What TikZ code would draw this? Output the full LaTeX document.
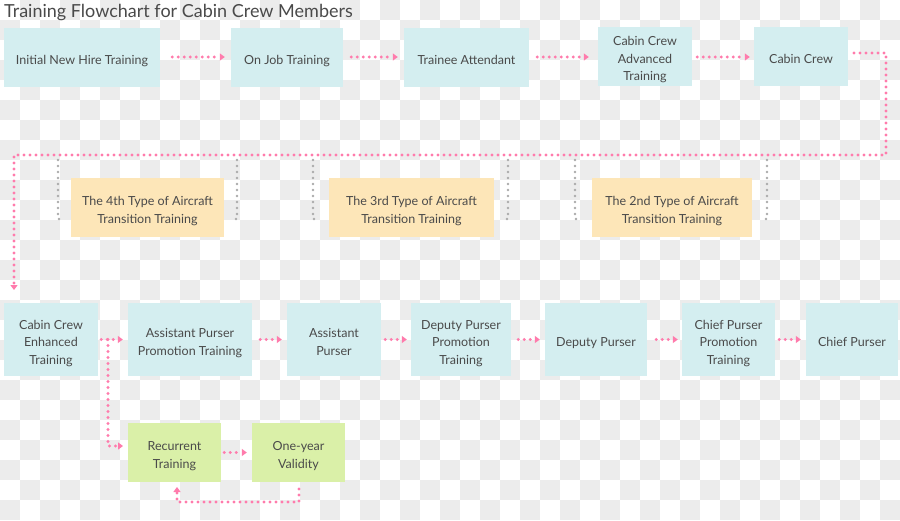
\documentclass[tikz,border=0pt]{standalone}
\usepackage{fontspec}
\setmainfont{Lato}
\usetikzlibrary{arrows.meta}
\definecolor{cyanbox}{HTML}{D4EEF0}
\definecolor{orangebox}{HTML}{FDE6B8}
\definecolor{greenbox}{HTML}{DAF0A8}
\definecolor{pinkline}{HTML}{FF7BAC}
\definecolor{grayline}{HTML}{AAAAAA}
\definecolor{txt}{HTML}{4A4A4A}
\definecolor{checker}{HTML}{ECECEC}
\newcommand\topstr{\rule[-3pt]{0pt}{20pt}}
\newcommand\botstr{\rule[-3pt]{0pt}{3pt}}
\tikzset{
  box/.style={rectangle, inner sep=0pt, align=center, text=txt,
    font=\fontsize{12.5}{17.5}\selectfont},
  cbox/.style={box, fill=cyanbox},
  obox/.style={box, fill=orangebox},
  gbox/.style={box, fill=greenbox},
  pinkdots/.style={draw=pinkline, line width=3.3pt, line cap=round,
    dash pattern=on 0pt off 6pt},
  pinkarrow/.style={pinkdots, -{Triangle[length=5pt,width=7pt]}},
  graydots/.style={draw=grayline, line width=2.8pt, line cap=round,
    dash pattern=on 0pt off 6pt},
}
\begin{document}
\begin{tikzpicture}[x=1pt,y=-1pt]
\useasboundingbox (0,0) rectangle (900,520);
\fill[white] (0,0) rectangle (900,520);
\foreach \j in {0,...,25} {
  \foreach \i in {0,...,44} {
    \pgfmathtruncatemacro\chk{mod(\i+\j,2)}
    \ifnum\chk=1 \fill[checker] (\i*20,\j*20) rectangle ++(20,20); \fi
  }
}
% title
\node[anchor=base west, inner sep=0pt, text=txt, font=\fontsize{18}{21}\selectfont] (title) at (4,17.5) {Training Flowchart for Cabin Crew Members};
% row 1
\node[cbox, minimum width=156pt, minimum height=59pt] (n1) at (82,57) {\topstr Initial New Hire Training\botstr};
\node[cbox, minimum width=112pt, minimum height=59pt] (n2) at (287,57) {\topstr On Job Training\botstr};
\node[cbox, minimum width=125pt, minimum height=59pt] (n3) at (466.5,57) {\topstr Trainee Attendant\botstr};
\node[cbox, minimum width=94pt, minimum height=59pt] (n4) at (645,56) {\topstr Cabin Crew\\Advanced\\Training\botstr};
\node[cbox, minimum width=94pt, minimum height=59pt] (n5) at (801,56) {\topstr Cabin Crew\botstr};
% row 2
\node[obox, minimum width=153pt, minimum height=59pt] (o4) at (147.5,207.5) {\topstr The 4th Type of Aircraft\\Transition Training\botstr};
\node[obox, minimum width=165pt, minimum height=59pt] (o3) at (411.5,207.5) {\topstr The 3rd Type of Aircraft\\Transition Training\botstr};
\node[obox, minimum width=160pt, minimum height=59pt] (o2) at (672,207.5) {\topstr The 2nd Type of Aircraft\\Transition Training\botstr};
% row 3
\node[cbox, minimum width=94pt, minimum height=73pt] (n6) at (51,339.5) {\topstr Cabin Crew\\Enhanced\\Training\botstr};
\node[cbox, minimum width=124pt, minimum height=73pt] (n7) at (190,339.5) {\topstr Assistant Purser\\Promotion Training\botstr};
\node[cbox, minimum width=94pt, minimum height=73pt] (n8) at (334,339.5) {\topstr Assistant\\Purser\botstr};
\node[cbox, minimum width=100pt, minimum height=73pt] (n9) at (461,339.5) {\topstr Deputy Purser\\Promotion\\Training\botstr};
\node[cbox, minimum width=102pt, minimum height=73pt] (n10) at (596,339.5) {\topstr Deputy Purser\botstr};
\node[cbox, minimum width=93pt, minimum height=73pt] (n11) at (728.5,339.5) {\topstr Chief Purser\\Promotion\\Training\botstr};
\node[cbox, minimum width=92pt, minimum height=73pt] (n12) at (852,339.5) {\topstr Chief Purser\botstr};
% row 4
\node[gbox, minimum width=93pt, minimum height=59pt] (n13) at (174.5,452.5) {\topstr Recurrent\\Training\botstr};
\node[gbox, minimum width=93pt, minimum height=59pt] (n14) at (298.5,452.5) {\topstr One-year\\Validity\botstr};
% row 1 arrows
\draw[pinkarrow] ([xshift=12pt]n1.east) -- ([xshift=-6pt]n2.west);
\draw[pinkarrow] ([xshift=8pt]n2.east) -- ([xshift=-6pt]n3.west);
\draw[pinkarrow] ([xshift=8pt]n3.east) -- ([xshift=-9pt]n4.west |- n3.east);
\draw[pinkarrow] ([xshift=5pt]n4.east |- n3.east) -- ([xshift=-4pt]n5.west |- n3.east);
% long connector
\coordinate (c0) at (854,53);
\coordinate (c1) at (886,155);
\coordinate (c2) at (14,155);
\coordinate (c3) at (14,290);
\draw[pinkarrow] (c0) -| (c1) -- (c2) -- (c3);
% gray brackets
\draw[graydots] (58,160) |- (64,219);
\draw[graydots] (237,160) |- (231,219);
\draw[graydots] (313,160) |- (319,219);
\draw[graydots] (508,160) |- (502,219);
\draw[graydots] (575,160) |- (581,219);
\draw[graydots] (767,160) |- (761,219);
% row 3 arrows
\draw[pinkarrow] ([xshift=3pt]n6.east) -- ([xshift=-5pt]n7.west);
\draw[pinkarrow] ([xshift=8pt]n7.east) -- ([xshift=-5pt]n8.west);
\draw[pinkarrow] ([xshift=4pt]n8.east) -- ([xshift=-4pt]n9.west);
\draw[pinkarrow] ([xshift=7pt]n9.east) -- ([xshift=-5pt]n10.west);
\draw[pinkarrow] ([xshift=9pt]n10.east) -- ([xshift=-4pt]n11.west);
\draw[pinkarrow] ([xshift=4pt]n11.east) -- ([xshift=-5pt]n12.west);
% branch to recurrent
\coordinate (b0) at (108,339.5);
\coordinate (b1) at (123,446);
\draw[pinkarrow] (b0) |- (b1);
% row 4
\draw[pinkarrow] ([xshift=3pt]n13.east) -- ([xshift=-5pt]n14.west);
\coordinate (l0) at (299,489);
\coordinate (l1) at (177,502);
\coordinate (l2) at (177,487);
\draw[pinkarrow] (l0) |- (l1) -- (l2);
\end{tikzpicture}
\end{document}
